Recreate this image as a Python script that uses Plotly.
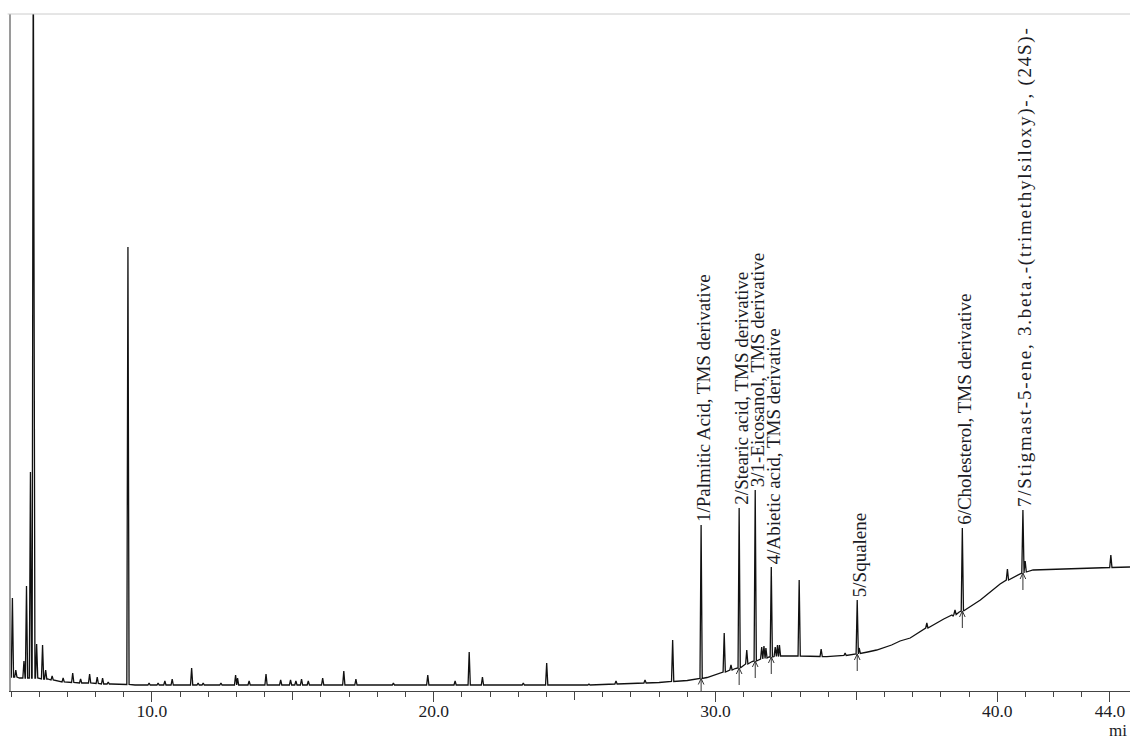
import plotly.graph_objects as go

# Total ion chromatogram: baseline knots (retention time in min, relative abundance)
base_rt = [5.00, 5.30, 5.85, 6.30, 6.80, 7.50, 8.55, 9.40, 25.0, 26.0, 27.0, 28.0,
           29.0, 29.70, 30.16, 30.70, 31.30, 31.90, 32.40, 33.95, 34.80, 35.40,
           35.72, 36.25, 36.55, 36.91, 37.30, 38.10, 38.65, 39.40, 39.75, 40.10,
           40.60, 41.27, 42.48, 43.65, 44.71]
base_ab = [14, 13, 13, 12, 9, 8, 7, 6, 6, 6.5, 7.5, 8.5,
           10.5, 13.5, 17.7, 22.5, 29.5, 34, 35, 34.3, 36, 39,
           41, 46, 50, 53, 60, 72, 79, 91, 99, 107,
           114, 121, 122, 123, 124]

# Peaks: apex retention time, apex abundance, abundance at the peak foot
peak_rt = [5.05, 5.17, 5.46, 5.55, 5.69, 5.79, 5.91, 6.12, 6.23, 6.46, 6.85, 7.19,
           7.47, 7.79, 8.06, 8.25, 8.45, 9.15, 9.90, 10.22, 10.46, 10.72, 11.41,
           11.64, 11.82, 12.45, 12.97, 13.04, 13.45, 14.05, 14.57, 14.92, 15.11,
           15.31, 15.55, 16.06, 16.81, 17.24, 18.57, 19.79, 20.76, 21.26, 21.73,
           23.18, 24.01, 25.51, 26.47, 27.50, 28.48, 29.49, 30.31, 30.55, 30.84,
           31.11, 31.41, 31.64, 31.72, 31.79, 31.98, 32.12, 32.20, 32.27, 32.97,
           33.75, 34.60, 35.03, 35.10, 37.50, 38.39, 38.50, 38.76, 40.36, 40.91,
           40.99, 44.03]
peak_top = [93, 21, 30, 105, 219, 760, 47, 46, 21, 15, 13, 18,
            12, 17, 14, 13, 9, 444, 8, 8, 10, 12, 23,
            8, 8, 8, 16, 13, 10, 17, 11, 11, 10,
            12, 10, 13, 20, 12, 8, 16, 10, 39, 14,
            8, 28, 7, 10, 11, 51, 166, 58, 26, 183,
            41, 201, 44, 45, 43, 124, 44, 46, 46, 111,
            42, 38, 91, 43, 68, 76, 81, 163, 122, 181,
            130, 136]
peak_foot = [14, 14, 13, 13, 13, 13, 13, 12, 12, 11, 9, 8.5,
             8, 8, 7.5, 7, 7, 6.5, 6, 6, 6, 6, 6,
             6, 6, 6, 6, 6, 6, 6, 6, 6, 6,
             6, 6, 6, 6, 6, 6, 6, 6, 6, 6,
             6, 6, 6, 7, 8, 9.5, 12.5, 19, 21, 23,
             27, 30, 32, 32.5, 33, 34, 34.5, 34.5, 35, 35,
             34.5, 35.5, 37, 37.5, 63, 75, 76.5, 80, 111, 118,
             119, 123.5]

# Identified compounds
label_rt = [29.49, 30.84, 31.41, 31.98, 35.03, 38.76, 40.91]
label_text = [
    "1/Palmitic Acid, TMS derivative",
    "2/Stearic acid, TMS derivative",
    "3/1-Eicosanol, TMS derivative",
    "4/Abietic acid, TMS derivative",
    "5/Squalene",
    "6/Cholesterol, TMS derivative",
    "7/Stigmast-5-ene, 3.beta.-(trimethylsiloxy)-, (24S)-",
]
# extra character spacing (px) per label; the long sterol name is set wider
label_spacing = [0, 0, 0, 0, 0, 0, 1.75]

tick_vals = [10, 20, 30, 40, 44]
tick_text = ["10.0", "20.0", "30.0", "40.0", "44.0"]
mid_tick_vals = [15, 25, 35]
unit_text = "mi"

X_RANGE = [5.0, 44.71]
Y_RANGE = [0, 677]
HALF_WIDTH = 0.04          # half width of a drawn peak, min
SERIF = "Liberation Serif"
INK = "#1b1b24"

# Assemble the trace polyline from baseline knots and peak triangles
pts = list(zip(base_rt, base_ab))
for rt, top, foot in zip(peak_rt, peak_top, peak_foot):
    pts.append((rt - HALF_WIDTH, foot))
    pts.append((rt, top))
    pts.append((rt + HALF_WIDTH, foot))
pts.sort(key=lambda p: p[0])
trace_x = [p[0] for p in pts]
trace_y = [p[1] for p in pts]

fig = go.Figure()
fig.add_trace(go.Scatter(x=trace_x, y=trace_y, mode="lines",
                         line=dict(color="#111111", width=1.3),
                         hoverinfo="skip", showlegend=False))

# Integration markers (upward arrows at the foot of each identified peak)
peak_lookup = {rt: (top, foot) for rt, top, foot in zip(peak_rt, peak_top, peak_foot)}
arr_x, arr_y = [], []
for rt in label_rt:
    foot = peak_lookup[rt][1]
    arr_x += [rt, rt, None, rt - 0.1, rt, rt + 0.1, None]
    arr_y += [foot, foot - 17, None, foot - 6, foot, foot - 6, None]
fig.add_trace(go.Scatter(x=arr_x, y=arr_y, mode="lines", xaxis="x2",
                         line=dict(color="#333333", width=1),
                         hoverinfo="skip", showlegend=False))

# Compound labels above the identified peaks
for rt, txt, sp in zip(label_rt, label_text, label_spacing):
    shown = f'<span style="letter-spacing:{sp}px">{txt}</span>' if sp else txt
    fig.add_annotation(x=rt, y=peak_lookup[rt][0], xref="x", yref="y",
                       text=shown, textangle=-90, showarrow=False,
                       xanchor="center", yanchor="bottom", xshift=2, yshift=1,
                       font=dict(family=SERIF, size=19, color=INK))

# Axis unit at the right edge
fig.add_annotation(x=1.0, y=-(731 - 691) / 677, xref="paper", yref="paper",
                   text=unit_text, showarrow=False, xanchor="right", yanchor="middle",
                   xshift=-1, font=dict(family=SERIF, size=17, color=INK))

# Light frame line along the top
fig.add_shape(type="line", xref="paper", yref="paper", x0=-0.003, x1=1, y0=1, y1=1,
              line=dict(color="#cccccc", width=1))

fig.update_layout(
    width=1130, height=740,
    margin=dict(l=11, r=0, t=14, b=49),
    paper_bgcolor="white", plot_bgcolor="white",
    showlegend=False,
    xaxis=dict(range=X_RANGE, showgrid=False, zeroline=False,
               showline=True, linecolor="#444444", linewidth=1,
               tickmode="array", tickvals=tick_vals, ticktext=tick_text,
               ticks="outside", ticklen=10, tickwidth=1, tickcolor="#444444",
               ticklabelstandoff=-6,
               tickfont=dict(family=SERIF, size=17.5, color=INK),
               minor=dict(ticks="outside", ticklen=5, tickwidth=1, tickcolor="#444444",
                          tickmode="linear", tick0=0, dtick=1, showgrid=False)),
    xaxis2=dict(range=X_RANGE, overlaying="x", anchor="y", side="bottom",
                showgrid=False, zeroline=False, showline=False,
                tickmode="array", tickvals=mid_tick_vals, ticks="outside",
                ticklen=8, tickwidth=1, tickcolor="#444444", showticklabels=False),
    yaxis=dict(range=Y_RANGE, showgrid=False, zeroline=False,
               showline=True, linecolor="#9a9a9a", linewidth=2,
               ticks="", showticklabels=False),
)

fig.write_html("out.html")
